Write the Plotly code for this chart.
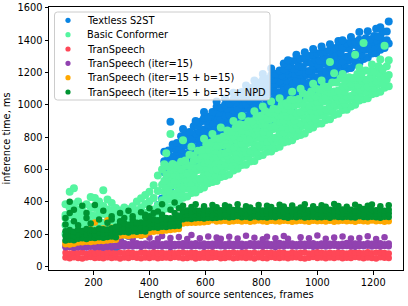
import plotly.graph_objects as go

N = None

# ---------------- data ----------------
FRAMES = [100, 115, 130, 145, 160, 175, 190, 205, 220, 235,
          250, 265, 280, 295, 310, 325, 340, 355, 370, 385,
          400, 415, 430, 445, 460, 475, 490, 505, 520, 535,
          550, 565, 580, 595, 610, 625, 640, 655, 670, 685,
          700, 715, 730, 745, 760, 775, 790, 805, 820, 835,
          850, 865, 880, 895, 910, 925, 940, 955, 970, 985,
          1000, 1015, 1030, 1045, 1060, 1075, 1090, 1105, 1120, 1135,
          1150, 1165, 1180, 1195, 1210, 1225, 1240, 1255]
LEFT = FRAMES[:24]
DIAG = FRAMES[24:]
DIAG_B = [453, 468, 483, 498, 513, 528, 543, 558, 573, 588,
          603, 618, 633, 648, 663, 678, 693, 708, 723, 738,
          753, 768, 783, 798, 813, 828, 843, 858, 873, 888,
          903, 918, 933, 948, 963, 978, 993, 1008, 1023, 1038,
          1053, 1068, 1083, 1098, 1113, 1128, 1143, 1158, 1173, 1188,
          1203, 1218, 1233, 1248]

X_TICKS = [200, 400, 600, 800, 1000, 1200]
Y_TICKS = [0, 200, 400, 600, 800, 1000, 1200, 1400, 1600]

# Textless S2ST (values over DIAG / DIAG_B)
BLUE_R0 = [473, 483, 511, 521, 533, 562, 577, 603, 609, 634, 642, 670, 679, 702, 704, 726, 737, 765, 774, 782,
           809, 817, 827, 854, 870, 898, 906, 932, 942, 975, 988, 1016, 1022, 1048, 1063, 1095, 1108, 1116, 1142, 1150,
           1161, 1188, 1199, 1223, 1227, 1249, 1255, 1283, 1293, 1317, 1319, 1341, 1352, 1379]
BLUE_R1 = [511, 525, 550, 556, 579, 587, 619, 631, 657, 663, 688, 699, 726, 735, 742, 768, 775, 786, 812, 824,
           848, 852, 873, 879, 912, 926, 954, 961, 988, 1004, 1035, 1049, 1060, 1090, 1101, 1116, 1146, 1158, 1181, 1185,
           1207, 1213, 1241, 1251, 1275, 1278, 1301, 1312, 1340, 1350, 1357, 1383, 1390, 1400]
BLUE_R2 = [536, 567, 578, 604, 608, 633, 648, 678, 690, 701, 730, 737, 747, 773, 784, 807, 810, 832, 837, 866,
           876, 900, 902, 925, 941, 973, 987, 999, 1030, 1042, 1056, 1087, 1102, 1129, 1136, 1162, 1171, 1200, 1209, 1233,
           1236, 1259, 1270, 1298, 1308, 1316, 1343, 1350, 1361, 1388, 1399, 1422, N, N]
BLUE_R3 = [582, 596, 625, 637, 646, 675, 686, 699, 728, 743, 769, 772, 793, 798, 826, 835, 858, 861, 883, 895,
           923, 933, 940, 967, 979, 994, 1025, 1041, 1069, 1077, 1102, 1112, 1144, 1157, 1184, 1191, 1217, 1229, 1256, 1266,
           1274, 1301, 1308, N, N, N, N, N, N, N, N, N, N, N]
BLUE_R4 = [616, 629, 657, 671, 696, 702, 727, 735, 766, 779, 805, 807, 829, 840, 867, 876, 883, 910, 917, 928,
           955, 967, 990, 994, 1020, 1030, 1063, 1077, 1105, 1112, 1138, 1154, 1185, 1198, 1209, 1240, 1251, N, N, N,
           N, N, N, N, N, N, N, N, N, N, N, N, N, N]
BLUE_R5 = [651, 675, 682, 713, 724, 750, 756, 781, 795, 826, 838, 845, 871, 878, 888, 914, 925, 949, 952, 974,
           980, 1009, 1018, 1042, 1049, 1076, 1092, 1124, 1138, 1150, 1180, 1192, 1206, N, N, N, N, N, N, N,
           N, N, N, N, N, N, N, N, N, N, N, N, N, N]
BLUE_R6 = [N, N, 728, 742, 771, 783, 794, 823, 833, 847, 876, 887, 910, 913, 934, 939, 967, 977, 1000, 1003,
           1026, 1038, 1065, 1075, 1087, 1118, 1130, 1145, 1176, 1192, N, N, N, N, N, N, N, N, N, N,
           N, N, N, N, N, N, N, N, N, N, N, N, N, N]
BLUE_R7 = [710, 717, 754, 763, 806, 818, 831, 867, 869, 900, 900, 927, 954, 949, 974, 975, 1008, 1014, 1041, 1039,
           1067, 1067, 1100, 1110, 1121, 1155, 1156, 1185, 1183, 1212, 1233, 1221, 1240, 1234, 1261, 1259, 1280, 1272, 1294, 1288,
           1316, 1320, 1324, 1352, 1348, 1371, 1365, 1389, 1412, 1404, 1425, 1423, 1452, 1453]
BLUE_R9 = [N, N, N, N, N, N, N, N, 892, 918, 925, 955, 988, 982, 1001, 1010, 1035, 1058, 1079, 1085,
           1104, 1112, 1137, 1155, 1160, 1183, 1192, 1212, 1220, 1240, 1270, 1275, 1283, 1290, 1302, 1310, 1318, 1325, 1330, 1338,
           1350, 1362, 1358, 1380, 1385, 1390, 1402, N, N, N, N, N, N, N]
BLUE_R8 = [N, 895, N, N, 850, N, N, 900, N, 955, N, N, 1020, N, 1040, N, 1075, N, N, 1120,
           N, 1150, N, 1190, N, 1225, N, N, 1255, 1275, N, 1310, N, 1325, N, 1345, N, 1360, N, 1375,
           N, 1395, 1400, N, 1420, N, 1450, N, 1455, N, 1470, 1480, N, 1515]
BLUE_LOW = [100, 160, 210, 190, 230, 260, 250, 300, 280, 330, 380, 420]   # over FRAMES[12:24]

# Basic Conformer (LEFT part)
CF_L0 = [200, 210, 205, 215, 208, 212, 220, 214, 218, 225, 216, 222, 228, 230, 236, 232, 240, 245, 250, 256, 262, 270, 285, 300]
CF_L1 = [255, 262, 258, 266, 250, 260, 270, 265, 262, 268, 258, 264, 270, 262, 268, 272, 266, 274, 280, 286, 292, 300, 320, 345]
CF_L2 = [300, 315, 322, 310, 298, 305, 318, 312, 320, 326, 314, 308, 300, 296, 304, 298, 310, 316, 324, 332, 340, 352, 378, 410]
CF_L3 = [318, 362, 384, 352, 318, 328, 366, 362, 356, 374, 352, 346, 326, 310, 318, 306, 328, 346, 364, 386, 404, 424, 466, 505]
CF_L4 = [385, 462, 484, 402, 345, 384, 430, 424, 402, 472, 414, 392, 362, 346, 364, 354, 372, 402, 422, 442, 462, 502, 562, 600]
# Basic Conformer (DIAG part)
CF_R0 = [358, 364, 387, 395, 425, 433, 455, 457, 478, 488, 514, 522, 528, 554, 560, 569, 594, 604, 627, 629,
         649, 653, 681, 689, 710, 711, 731, 740, 766, 773, 780, 806, 813, 823, 849, 860, 883, 885, 906, 910,
         937, 945, 968, 969, 990, 1000, 1027, 1035, 1041, 1066, 1072, 1081, 1105, 1115]
CF_R1 = [386, 412, 416, 441, 454, 480, 488, 495, 520, 526, 535, 560, 570, 593, 595, 615, 619, 646, 655, 677,
         678, 699, 710, 736, 743, 749, 773, 778, 787, 811, 822, 845, 848, 869, 874, 902, 911, 933, 935, 956,
         966, 992, 1001, 1007, 1032, 1038, 1048, 1073, 1083, 1105, 1107, 1127, 1130, 1157]
CF_R2 = [430, 440, 452, 481, 494, 516, 518, 539, 543, 570, 578, 600, 601, 623, 633, 659, 667, 673, 699, 705,
         714, 739, 750, 772, 773, 793, 796, 822, 830, 851, 853, 875, 886, 913, 922, 929, 955, 961, 971, 996,
         1006, 1028, 1031, 1051, 1055, 1082, 1091, 1113, 1114, 1135, 1145, 1171, 1178, 1184]
CF_R3 = [463, 471, 501, 513, 538, 539, 560, 571, 597, 605, 611, 636, 642, 652, 677, 687, 709, 711, 732, 736,
         763, 771, 794, 795, 815, 825, 850, 857, 863, 887, 894, 904, 930, 941, 964, 967, 988, 992, 1020, 1028,
         1050, 1051, 1073, 1083, 1109, 1117, 1124, 1149, 1155, 1164, 1189, 1199, 1220, N]
CF_R4 = [492, 517, 530, 560, 571, 577, 602, 609, 618, 643, 653, 675, 677, 698, 702, 729, 737, 759, 761, 782,
         792, 818, 827, 833, 857, 863, 871, 895, 905, 926, 929, 950, 955, 983, 992, 1015, 1017, 1038, 1049, 1075,
         1083, 1089, 1115, 1121, 1130, 1155, 1166, N, N, N, N, N, N, N]
CF_R5 = [528, 557, 570, 596, 601, 621, 625, 653, 661, 683, 684, 705, 715, 742, 750, 756, 781, 787, 797, 822,
         832, 854, 857, 877, 880, 907, 914, 935, 936, 956, 967, 994, 1003, 1010, 1036, 1043, 1053, 1078, 1089, 1111,
         N, N, N, N, N, N, N, N, N, N, N, N, N, N]
CF_R6 = [569, 599, 610, N, N, N, N, N, N, 721, 723, 743, 747, 775, 783, 805, 806, 827, 838, 864,
         872, 878, 904, 910, 918, 943, 952, 973, 975, 994, N, N, N, N, N, N, N, N, N, N,
         N, N, N, N, N, N, N, N, N, N, N, N, N, N]
CF_R7 = [632, 619, 634, 625, 648, 656, 691, 687, 715, 720, 756, 765, 790, 791, 802, 841, 834, 858, 879, 875,
         898, 898, 929, 933, 962, 952, 975, 973, 1004, 1010, 1031, 1029, 1036, 1072, 1061, 1083, 1102, 1094, 1114, 1110,
         1138, 1138, 1164, 1152, 1170, 1165, 1191, 1193, 1212, 1206, 1208, 1239, 1223, 1239]
CF_R8 = [700, 820, N, N, 780, N, 740, N, N, 790, N, 820, N, 860, N, N, 900, N, 930, N,
         N, 960, N, 990, N, 1020, N, 1040, N, N, 1080, N, 1100, N, N, 1130, N, 1150, N, 1265,
         1195, N, 1190, N, N, 1310, 1230, 1382, N, 1250, N, 1280, 1365, 1275]

# TranSpeech (over FRAMES)
RED_A = [55, 51, 57, 53, 49, 56, 58, 52, 54, 50, 57, 53, 55, 49, 56, 52, 58, 54, 51, 55,
         53, 57, 50, 54, 56, 52, 58, 55, 51, 53, 57, 49, 54, 56, 52, 55, 58, 51, 53, 57,
         50, 54, 56, 52, 55, 49, 57, 53, 51, 58, 54, 52, 56, 50, 55, 57, 53, 49, 54, 58,
         52, 55, 51, 56, 53, 57, 50, 54, 52, 58, 55, 51, 56, 53, 49, 57, 54, 52]
RED_B = [84, 80, 86, 82, 87, 79, 85, 83, 88, 81, 84, 86, 80, 85, 82, 87, 83, 79, 86, 84,
         81, 88, 83, 85, 80, 86, 82, 84, 87, 81, 85, 83, 79, 86, 84, 88, 82, 80, 85, 83,
         87, 81, 84, 86, 82, 85, 80, 88, 83, 84, 81, 86, 85, 79, 87, 82, 84, 86, 80, 83,
         88, 85, 81, 84, 82, 87, 83, 80, 86, 84, 85, 81, 88, 82, 84, 86, 83, 80]

# TranSpeech (iter=15) (over FRAMES; PUR_C over FRAMES[13:])
PUR_A = [118, 120, 116, 119, 121, 117, 122, 118, 120, 116, 121, 119, 123,
         125, 123, 127, 124, 126, 122, 128, 125, 123, 127, 124, 126, 121, 125, 128, 124, 126, 123, 127, 125,
         122, 126, 124, 128, 125, 123, 127, 124, 126, 122, 125, 128, 124, 126, 123, 127, 125, 121, 126, 124,
         128, 125, 123, 127, 124, 126, 122, 125, 127, 124, 126, 128, 123, 125, 127, 124, 122, 126, 125, 128,
         124, 126, 123, 127, 125]
PUR_B = [128, 126, 130, 127, 125, 129, 127, 131, 126, 128, 130, 127, 129,
         140, 143, 138, 141, 144, 139, 142, 137, 143, 140, 138, 142, 145, 139, 141, 143, 137, 140, 144, 138,
         142, 139, 141, 145, 140, 137, 143, 139, 142, 141, 138, 144, 140, 142, 139, 143, 137, 141, 145, 140,
         139, 142, 138, 143, 141, 140, 144, 137, 142, 139, 141, 143, 138, 140, 145, 139, 142, 140, 137, 143,
         141, 139, 144, 138, 142]
PUR_C = [172, N, 185, 170, N, 190, N, 178, N, 172, 188, N, 176, N, 182, N, 170, 195, N, 174,
         N, 186, N, 179, 171, N, 184, N, 173, N, 190, N, 177, N, 169, 183, N, 175, N, 188,
         172, N, N, 180, N, 174, N, 192, N, 171, N, 179, N, 185, N, 173, N, 176, N, 187,
         N, 170, N, 181, N]

# TranSpeech (iter=15 + b=15) (ORG_A over FRAMES, ORG_B over FRAMES[:37])
ORG_A = [138, 136, 140, 148, 150, 152, 151, 155, 157, 158, 160, 163, 165,
         190, 192, 189, 193, 195, 192, 196, 212, 215, 218, 220, 222, 225, 228, 232,
         266, 268, 270, 271, 272, 274, 276, 285, 278,
         279, 282, 277, 280, 283, 278, 281, 276, 280, 284, 279, 277, 282, 280, 278, 283, 281, 276, 279, 282,
         280, 277, 283, 279, 281, 278, 282, 276, 280, 283, 279, 281, 277, 282, 280, 278, 284, 279, 281, 277, 280]
ORG_B = [150, 155, 152, 200, N, 215, 230, 272, N, 235, 285, 240, N,
         220, N, 235, 228, N, 240, 250, 245, N, 260, 255, 270, N, 280, 300,
         285, N, 288, N, 292, N, 290, 295, N]

# TranSpeech (iter=15 + b=15 + NPD) (over FRAMES; NPD_E over FRAMES[:28])
NPD_A = [160, 165, 162, 172, 175, 170, 178, 176, 180, 178, 182, 185, 180,
         212, 215, 210, 218, 214, 220, 216, 238, 242, 240, 245, 244, 248, 250, 252,
         292, 296, 294, 298, 300, 297, 302, 299, 301,
         305, 308, 303, 306, 310, 304, 307, 302, 309, 305, 306, 303, 308, 304, 310, 306, 302, 307, 305, 309,
         303, 306, 308, 304, 305, 307, 302, 309, 306, 304, 308, 305, 303, 310, 306, 304, 307, 305, 302, 308, 306]
NPD_B = [190, 195, 188, 198, 202, 196, 205, 200, 208, 204, 210, 206, 212,
         238, 242, 236, 244, 240, 246, 242, 262, 266, 264, 270, 268, 272, 276, 278,
         318, 322, 325, 320, 326, 324, 328, 322, 327,
         328, 325, 331, 327, 324, 330, 326, 333, 328, 325, 329, 327, 332, 324, 328, 330, 326, 331, 325, 329,
         327, 333, 326, 328, 324, 330, 327, 331, 325, 329, 328, 326, 332, 327, 324, 330, 328, 326, 331, 325, 329]
NPD_C = [218, 225, 215, 228, 220, 232, 226, 224, 235, 230, 228, 236, 232,
         262, 268, 258, 270, 265, 272, 268, 288, 292, 286, 296, 292, 298, 300, 305,
         342, 346, 340, 348, 344, 350, 346, 352, 348,
         347, 352, 343, 349, 355, 345, 350, 341, 348, 353, 346, 344, 351, 347, 355, 342, 349, 346, 352, 344,
         350, 348, 343, 354, 347, 345, 351, 349, 342, 353, 346, 350, 344, 348, 355, 343, 349, 347, 352, 345, 350]
NPD_D = [300, 400, 350, N, 375, 330, N, 380, N, 345, N, 290, N,
         330, N, 345, 310, N, 335, 320, 360, N, 340, 385, N, 350, 395, 360,
         375, N, 368, 385, N, 372, N, 380, 366, N, 378, 370, N, 385, N, 372, 364, N, 380, N,
         375, 368, N, 382, 371, N, 377, N, 365, 384, N, 373, N, 379, 369, N, 386, 374, N, 370,
         N, 381, 367, N, 376, 383, N, 372, N, 378]
NPD_E = [260, 330, 280, 255, N, 300, 265, N, 290, N, 270, 310, 245,
         280, 300, N, 290, 270, N, 305, 310, 330, N, 320, 300, N, 330, 315]

NAMES = ["Textless S2ST", "Basic Conformer", "TranSpeech", "TranSpeech (iter=15)",
         "TranSpeech (iter=15 + b=15)", "TranSpeech (iter=15 + b=15 + NPD"]
COLORS = ["#0984e3", "#55f5a0", "#ff4757", "#9142b0", "#ffa801", "#009432"]
SIZES = [8, 8, 6.5, 6.5, 6.5, 6.5]


def collect(parts):
    xs_out, ys_out = [], []
    for xs, rows in parts:
        for row in rows:
            for x, y in zip(xs, row):
                if y is not None:
                    xs_out.append(x)
                    ys_out.append(y)
    return xs_out, ys_out


SERIES = [
    collect([(DIAG, [BLUE_R0]), (DIAG_B, [BLUE_R1]), (DIAG, [BLUE_R2]), (DIAG_B, [BLUE_R3]),
             (DIAG, [BLUE_R4]), (DIAG_B, [BLUE_R5]), (DIAG, [BLUE_R6]), (DIAG_B, [BLUE_R7]),
             (DIAG, [BLUE_R9]), (DIAG, [BLUE_R8]), (FRAMES[12:24], [BLUE_LOW])]),
    collect([(LEFT, [CF_L0, CF_L1, CF_L2, CF_L3, CF_L4]),
             (DIAG, [CF_R0]), (DIAG_B, [CF_R1]), (DIAG, [CF_R2]), (DIAG_B, [CF_R3]),
             (DIAG, [CF_R4]), (DIAG_B, [CF_R5]), (DIAG, [CF_R6]), (DIAG_B, [CF_R7]),
             (DIAG, [CF_R8])]),
    collect([(FRAMES, [RED_A, RED_B])]),
    collect([(FRAMES, [PUR_A, PUR_B]), (FRAMES[13:], [PUR_C])]),
    collect([(FRAMES, [ORG_A]), (FRAMES[:37], [ORG_B])]),
    collect([(FRAMES, [NPD_A, NPD_B, NPD_C, NPD_D]), (FRAMES[:28], [NPD_E])]),
]

FONT = "DejaVu Sans"
FS = 9.8

fig = go.Figure()
for (xs, ys), name, color, size in zip(SERIES, NAMES, COLORS, SIZES):
    fig.add_trace(go.Scatter(x=xs, y=ys, mode="markers", name=name, showlegend=False,
                             marker=dict(size=size, color=color, line=dict(width=0))))

W, H = 408, 306
PL, PR, PT, PB = 49, 403, 7, 270


def xp(px):
    return (px - PL) / (PR - PL)


def yp(py):
    return (PB - py) / (PB - PT)


# legend box (manual, matplotlib-like)
x0, x1, y0, y1 = xp(54.5), xp(270), yp(100), yp(12)
rx, ry = 3 / (PR - PL), 3 / (PB - PT)
path = (f"M {x0+rx},{y1} L {x1-rx},{y1} Q {x1},{y1} {x1},{y1-ry} L {x1},{y0+ry} "
        f"Q {x1},{y0} {x1-rx},{y0} L {x0+rx},{y0} Q {x0},{y0} {x0},{y0+ry} "
        f"L {x0},{y1-ry} Q {x0},{y1} {x0+rx},{y1} Z")
shapes = [dict(type="path", path=path, xref="paper", yref="paper", layer="above",
               fillcolor="rgba(255,255,255,0.8)", line=dict(color="#cccccc", width=1))]
annotations = []
LEG_Y = [20.3, 34.7, 49.0, 63.3, 77.7, 92.0]
for name, color, ly in zip(NAMES, COLORS, LEG_Y):
    shapes.append(dict(type="circle", xref="paper", yref="paper", layer="above",
                       xsizemode="pixel", ysizemode="pixel",
                       xanchor=xp(68), yanchor=yp(ly), x0=-2.6, x1=2.6, y0=-2.6, y1=2.6,
                       fillcolor=color, line=dict(width=0)))
    annotations.append(dict(x=xp(84.5), y=yp(ly), xref="paper", yref="paper", text=name,
                            showarrow=False, xanchor="left", yanchor="middle",
                            font=dict(family=FONT, size=FS, color="black")))

axis_common = dict(showgrid=False, zeroline=False, showline=True, mirror=True,
                   linecolor="black", linewidth=1, ticks="outside", ticklen=3.5,
                   tickwidth=1, tickcolor="black",
                   tickfont=dict(family=FONT, size=FS, color="black"))

fig.update_layout(
    width=W, height=H,
    margin=dict(l=PL, r=W - PR, t=PT, b=H - PB, autoexpand=False),
    paper_bgcolor="white", plot_bgcolor="white",
    font=dict(family=FONT, size=FS, color="black"),
    xaxis=dict(range=[41, 1306], tickvals=X_TICKS, automargin=False,
               title=dict(text="Length of source sentences, frames", standoff=3,
                          font=dict(family=FONT, size=FS, color="black")),
               **axis_common),
    yaxis=dict(range=[-22, 1605], tickvals=Y_TICKS, automargin=False,
               title=dict(text="inference time, ms", standoff=5,
                          font=dict(family=FONT, size=FS, color="black")),
               **axis_common),
    shapes=shapes, annotations=annotations,
)

fig.write_html("out.html", config={"displayModeBar": False},
               post_script="document.body.style.margin='0';document.body.style.padding='0';"
                           "document.body.style.overflow='hidden';")
